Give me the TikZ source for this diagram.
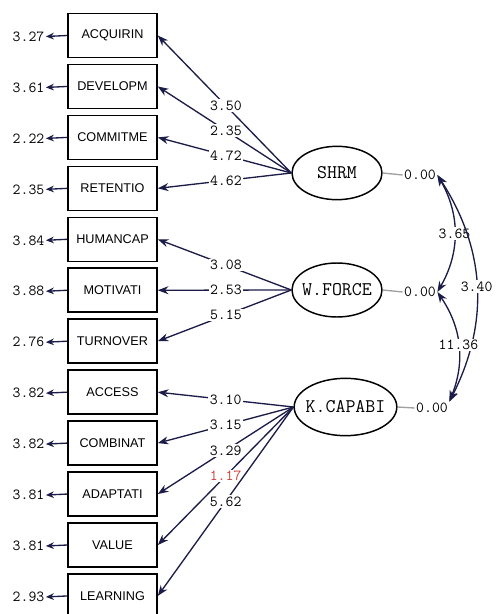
\documentclass[tikz,border=0pt]{standalone}
\usepackage{fontspec}
\setsansfont{Liberation Sans}
\usetikzlibrary{arrows.meta,shapes.geometric}
\definecolor{ink}{RGB}{28,28,72}
\definecolor{grayline}{RGB}{160,160,160}
\definecolor{flag}{RGB}{210,60,60}

\begin{document}
\begin{tikzpicture}[x=.75pt,y=-.75pt,
  obs/.style={draw,line width=1.2pt,minimum width=66.75pt,minimum height=33pt,inner sep=0pt,
    font=\sffamily\fontsize{9.5}{10}\selectfont},
  lat/.style={draw,ellipse,line width=1.1pt,inner sep=0pt,font=\ttfamily\fontsize{14.5}{15}\selectfont},
  num/.style={text=black,font=\ttfamily\fontsize{11.5}{12}\selectfont,inner sep=1pt},
  ld/.style={ink,line width=1pt,-{Stealth[length=8pt,width=6pt]}},
  err/.style={ink,line width=1pt,-{Stealth[length=6pt,width=5pt]}},
  cov/.style={ink,line width=1pt,{Stealth[length=8pt,width=6pt]}-{Stealth[length=8pt,width=6pt]}}]
  \useasboundingbox (0,0) rectangle (496,614);
  % indicators with their error variances
  \foreach \n/\t/\e [count=\i] in {acq/ACQUIRIN/3.27,dev/DEVELOPM/3.61,com/COMMITME/2.22,ret/RETENTIO/2.35,
      hum/HUMANCAP/3.84,mot/MOTIVATI/3.88,tur/TURNOVER/2.76,acc/ACCESS/3.82,
      cmb/COMBINAT/3.82,ada/ADAPTATI/3.81,val/VALUE/3.81,lrn/LEARNING/2.93} {
    \node[obs] (\n) at (112.5,{35.5+50.95*(\i-1)}) {\t};
    \node[num] (e\n) at (28.5,{36.5+50.95*(\i-1)}) {\e};
    \draw[err] (\n.west) -- (e\n.east);
  }
  % latent factors
  \node[lat,minimum width=67.5pt,minimum height=40pt] (shrm) at (337,173) {\makebox[0pt]{SHRM}};
  \node[lat,minimum width=67.5pt,minimum height=40.5pt] (wfor) at (337,290) {\makebox[0pt]{W.FORCE}};
  \node[lat,minimum width=77pt,minimum height=43pt] (kcap) at (345.5,407) {\makebox[0pt]{K.CAPABI}};
  \node[num] (s0) at (420,175) {0.00};
  \node[num] (w0) at (420,292) {0.00};
  \node[num] (k0) at (432,408) {0.00};
  \foreach \f/\z in {shrm/s0,wfor/w0,kcap/k0} \draw[grayline,line width=1pt] (\f.east) -- (\z.west);
  % loadings
  \foreach \b/\v in {acq/3.50,dev/2.35,com/4.72,ret/4.62}
    \draw[ld] (shrm.west) -- node[num,fill=white,pos=.49]{\v} (\b.east);
  \foreach \b/\v in {hum/3.08,mot/2.53,tur/5.15}
    \draw[ld] (wfor.west) -- node[num,fill=white,pos=.49]{\v} (\b.east);
  \foreach \b/\v in {acc/3.10,cmb/3.15,ada/3.29,val/{\textcolor{flag}{1.17}},lrn/5.62}
    \draw[ld] (kcap.west) -- node[num,fill=white,pos=.5]{\v} (\b.east);
  % factor covariances
  \draw[cov] (s0.east) to[bend left=30] node[num,fill=white]{3.65} (w0.east);
  \draw[cov] (s0.east) to[bend left=30] node[num,fill=white]{3.40} (k0.north east);
  \draw[cov] (w0.east) to[bend left=28] node[num,fill=white]{11.36} (k0.north east);
\end{tikzpicture}
\end{document}
